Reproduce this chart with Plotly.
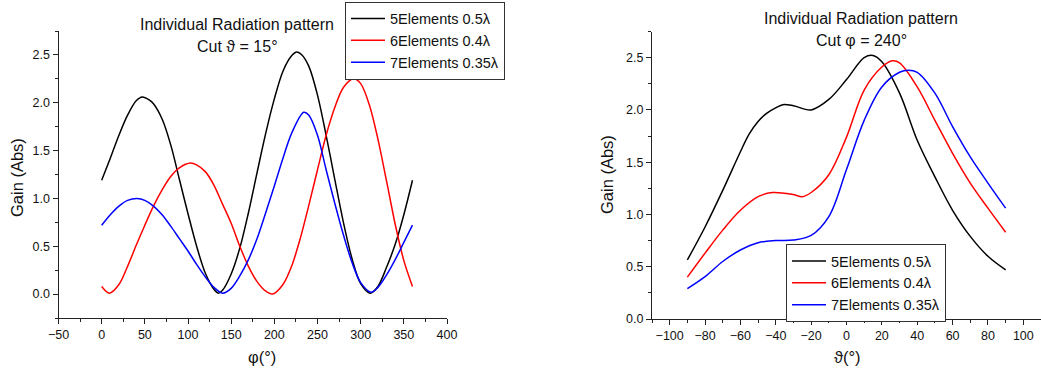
import plotly.graph_objects as go

# ---------------- Data ----------------
series_names = ["5Elements 0.5λ", "6Elements 0.4λ", "7Elements 0.35λ"]
series_colors = ["#000000", "#FF0000", "#0000FF"]

# Left panel: cut theta = 15 deg, gain vs phi
phi_black = [0, 10, 20, 30, 40, 47, 55, 60, 70, 80, 90, 100, 110, 120, 130, 135, 140, 150, 160, 170,
             180, 190, 200, 210, 220, 226, 232, 240, 250, 260, 270, 280, 290, 300, 311, 320, 330, 340, 350, 360]
gain_black = [1.19, 1.42, 1.66, 1.87, 2.02, 2.06, 2.03, 1.99, 1.83, 1.56, 1.20, 0.84, 0.50, 0.22, 0.05, 0.01, 0.04, 0.21, 0.48, 0.85,
              1.27, 1.68, 2.04, 2.33, 2.49, 2.53, 2.50, 2.38, 2.08, 1.66, 1.20, 0.75, 0.37, 0.11, 0.01, 0.08, 0.28, 0.52, 0.83, 1.19]

phi_red = [0, 9, 20, 30, 40, 50, 60, 70, 80, 90, 103, 110, 120, 130, 140, 150, 160, 170, 180, 190,
           198, 210, 220, 230, 240, 250, 260, 270, 280, 292, 300, 310, 320, 330, 340, 350, 360]
gain_red = [0.08, 0.01, 0.10, 0.29, 0.51, 0.72, 0.92, 1.09, 1.23, 1.32, 1.37, 1.35, 1.28, 1.14, 0.94, 0.74, 0.50, 0.29, 0.13, 0.03,
            0.00, 0.10, 0.29, 0.58, 0.93, 1.30, 1.66, 1.95, 2.16, 2.25, 2.20, 1.98, 1.62, 1.18, 0.73, 0.35, 0.08]

phi_blue = [0, 10, 20, 30, 41, 50, 60, 70, 80, 90, 100, 110, 120, 130, 140, 150, 160, 170, 180, 190,
            200, 210, 220, 234, 240, 250, 260, 270, 280, 290, 300, 312, 320, 330, 340, 350, 360]
gain_blue = [0.72, 0.83, 0.92, 0.98, 1.00, 0.98, 0.92, 0.83, 0.71, 0.58, 0.45, 0.31, 0.18, 0.07, 0.01, 0.06, 0.19, 0.36, 0.58, 0.85,
             1.13, 1.42, 1.68, 1.90, 1.87, 1.66, 1.30, 0.95, 0.62, 0.33, 0.12, 0.02, 0.07, 0.20, 0.36, 0.54, 0.72]

# Right panel: cut phi = 240 deg, gain vs theta
theta_black = [-90, -80, -70, -60, -55, -50, -45, -40, -36, -30, -20, -10, 0, 10, 15, 20, 30, 40, 50, 60, 70, 80, 90]
gain_black2 = [0.565, 0.88, 1.23, 1.60, 1.77, 1.89, 1.97, 2.02, 2.05, 2.04, 2.00, 2.10, 2.29, 2.50, 2.52, 2.46, 2.16, 1.71, 1.36, 1.04, 0.79, 0.60, 0.47]

theta_red = [-90, -80, -70, -60, -50, -42, -30, -25, -20, -10, 0, 10, 20, 26, 30, 40, 50, 60, 70, 80, 90]
gain_red2 = [0.40, 0.63, 0.85, 1.04, 1.17, 1.21, 1.19, 1.17, 1.21, 1.38, 1.74, 2.19, 2.41, 2.47, 2.45, 2.22, 1.90, 1.585, 1.30, 1.06, 0.83]

theta_blue = [-90, -80, -70, -60, -50, -40, -30, -20, -10, 0, 10, 20, 30, 35, 40, 50, 60, 70, 80, 90]
gain_blue2 = [0.29, 0.405, 0.55, 0.66, 0.73, 0.75, 0.756, 0.80, 0.98, 1.43, 1.90, 2.22, 2.36, 2.38, 2.36, 2.16, 1.84, 1.55, 1.30, 1.06]

left_title = ["Individual Radiation pattern", "Cut ϑ = 15°"]
right_title = ["Individual Radiation pattern", "Cut φ = 240°"]
left_xlabel = "φ(°)"
right_xlabel = "ϑ(°)"
ylabel = "Gain (Abs)"

# ---------------- Figure ----------------
W, H = 1041, 372
FONT = "Liberation Sans, Arial, sans-serif"

fig = go.Figure()

left_data = [(phi_black, gain_black), (phi_red, gain_red), (phi_blue, gain_blue)]
right_data = [(theta_black, gain_black2), (theta_red, gain_red2), (theta_blue, gain_blue2)]

for (xs, ys), name, col in zip(left_data, series_names, series_colors):
    fig.add_trace(go.Scatter(x=xs, y=ys, mode="lines", name=name,
                             line=dict(color=col, width=1.5, shape="spline", smoothing=0.9),
                             xaxis="x", yaxis="y", legend="legend"))
for (xs, ys), name, col in zip(right_data, series_names, series_colors):
    fig.add_trace(go.Scatter(x=xs, y=ys, mode="lines", name=name,
                             line=dict(color=col, width=1.5, shape="spline", smoothing=1.0),
                             xaxis="x2", yaxis="y2", legend="legend2"))


def px_x(p):
    return p / W


def px_y(p):
    return 1 - p / H


axis_common = dict(showline=True, linecolor="#222", linewidth=1, ticks="outside", ticklen=5,
                   tickwidth=1, tickcolor="#222", showgrid=False, zeroline=False, automargin=False,
                   tickfont=dict(family=FONT, size=12.5, color="#111"))
minor_common = dict(ticklen=3, ticks="outside", tickcolor="#222", tickwidth=1, showgrid=False)
legend_common = dict(xanchor="left", yanchor="top", bgcolor="white", bordercolor="#333",
                     borderwidth=1, itemwidth=34,
                     font=dict(family=FONT, size=14.5, color="#111"))

fig.update_layout(
    template="none",
    width=W, height=H, autosize=False,
    margin=dict(l=0, r=0, t=0, b=0, pad=0),
    paper_bgcolor="white", plot_bgcolor="white",
    font=dict(family=FONT, color="#111"),
    xaxis=dict(domain=[px_x(58.5), px_x(447)], range=[-50, 400], dtick=50, tick0=0, anchor="y",
               minor=dict(dtick=25, **minor_common), **axis_common),
    yaxis=dict(domain=[px_y(318), px_y(31)], range=[-0.25, 2.75], dtick=0.5, tick0=0, tickformat=".1f",
               anchor="x", minor=dict(dtick=0.25, **minor_common), **axis_common),
    xaxis2=dict(domain=[px_x(652), 1.0], range=[-110, 110], dtick=20, tick0=0, anchor="y2",
                minor=dict(dtick=10, **minor_common), **axis_common),
    yaxis2=dict(domain=[px_y(319), px_y(31.5)], range=[0, 2.75], dtick=0.5, tick0=0, tickformat=".1f",
                anchor="x2", minor=dict(dtick=0.25, **minor_common), **axis_common),
    legend=dict(x=px_x(345), y=px_y(1.5), **legend_common),
    legend2=dict(x=px_x(786), y=px_y(244), **legend_common),
)

annotations = []
for cx, ys, lines in [(237, (25, 46.5), left_title), (861.3, (19, 40), right_title)]:
    for yy, txt in zip(ys, lines):
        annotations.append(dict(text=txt, x=px_x(cx), y=px_y(yy), xref="paper", yref="paper",
                                xanchor="center", yanchor="middle", showarrow=False,
                                font=dict(family=FONT, size=16, color="#111")))
# axis labels
annotations.append(dict(text=left_xlabel, x=px_x(262), y=px_y(357), xref="paper", yref="paper",
                        xanchor="center", yanchor="middle", showarrow=False,
                        font=dict(family=FONT, size=16.5, color="#111")))
annotations.append(dict(text=right_xlabel, x=px_x(847), y=px_y(357), xref="paper", yref="paper",
                        xanchor="center", yanchor="middle", showarrow=False,
                        font=dict(family=FONT, size=16.5, color="#111")))
annotations.append(dict(text=ylabel, x=px_x(16.5), y=px_y(177.5), xref="paper", yref="paper",
                        xanchor="center", yanchor="middle", showarrow=False, textangle=-90,
                        font=dict(family=FONT, size=16.5, color="#111")))
annotations.append(dict(text=ylabel, x=px_x(607), y=px_y(175), xref="paper", yref="paper",
                        xanchor="center", yanchor="middle", showarrow=False, textangle=-90,
                        font=dict(family=FONT, size=16.5, color="#111")))
fig.update_layout(annotations=annotations)

# remove the browser's default 8px page margin so the figure fills the window exactly
fig.write_html("out.html", config={"displayModeBar": False},
               post_script="document.body.style.margin='0px';")
